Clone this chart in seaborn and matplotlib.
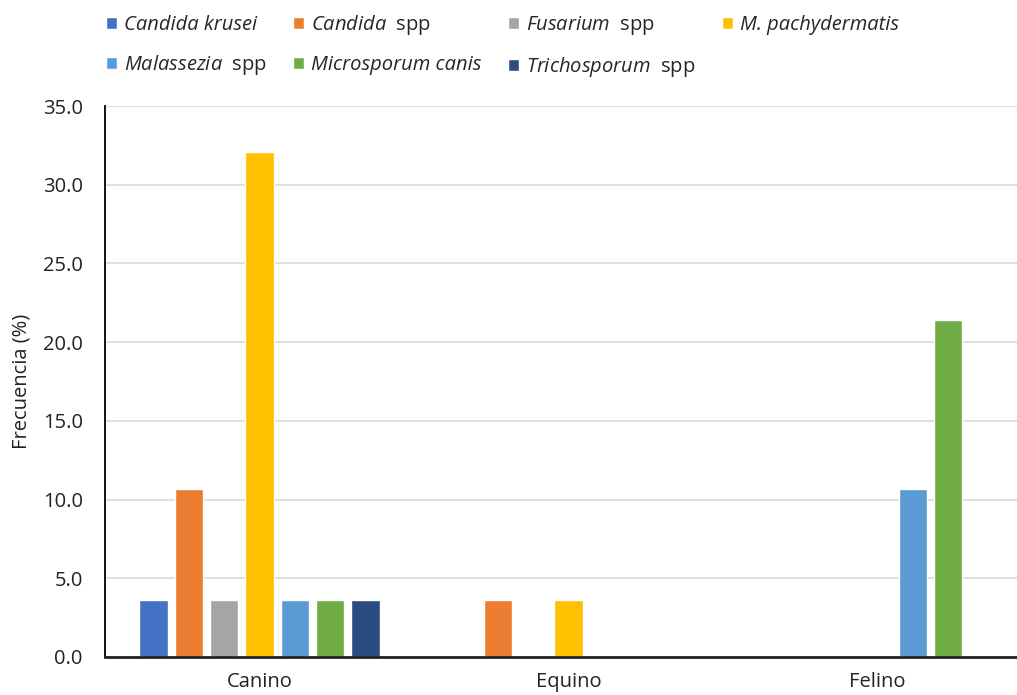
import numpy as np
import pandas as pd
import seaborn as sns
import matplotlib.pyplot as plt
from matplotlib.ticker import FormatStrFormatter

# data
hosts = ['Canino', 'Equino', 'Felino']
species = ['Candida krusei', 'Candida spp', 'Fusarium spp', 'M. pachydermatis',
           'Malassezia spp', 'Microsporum canis', 'Trichosporum spp']
legend_labels = ['Candida krusei', r'$\mathit{Candida}$  spp',
                 r'$\mathit{Fusarium}$  spp', 'M. pachydermatis',
                 r'$\mathit{Malassezia}$  spp', 'Microsporum canis',
                 r'$\mathit{Trichosporum}$  spp']
canino = [3.6, 10.7, 3.6, 32.1, 3.6, 3.6, 3.6]
equino = [0.0, 3.6, 0.0, 3.6, 0.0, 0.0, 0.0]
felino = [0.0, 0.0, 0.0, 0.0, 10.7, 21.4, 0.0]
colors = ['#4472C4', '#ED7D31', '#A5A5A5', '#FFC000', '#5B9BD5', '#70AD47', '#2B4C7E']

rows = []
for host, vals in zip(hosts, [canino, equino, felino]):
    for sp, v in zip(species, vals):
        rows.append({'Hospedador': host, 'Especie': sp, 'Frecuencia': v})
df = pd.DataFrame(rows)

# plotting
sns.set_style("white")
plt.rcParams['font.family'] = ['Open Sans', 'DejaVu Sans']
plt.rcParams['mathtext.fontset'] = 'custom'
plt.rcParams['mathtext.it'] = 'Open Sans:italic'
plt.rcParams['mathtext.rm'] = 'Open Sans'

fig = plt.figure(figsize=(10.17, 6.95), dpi=100)
ax = fig.add_axes([105 / 1017, 38 / 695, 927 / 1017, 551 / 695])

sns.barplot(ax=ax, data=df, x='Hospedador', y='Frecuencia', hue='Especie',
            order=hosts, hue_order=species, palette=colors, width=0.8, gap=0.2,
            saturation=1, legend=True)

handles, labels = ax.get_legend_handles_labels()
ax.get_legend().remove()

ax.set_ylim(0, 35)
ax.set_yticks(np.arange(0, 35.1, 5))
ax.yaxis.set_major_formatter(FormatStrFormatter('%.1f'))
ax.set_xlim(-0.5, 2.5)
ax.grid(axis='y', color='#D9D9D9', linewidth=1.2)
ax.set_axisbelow(True)
for s in ['top', 'right']:
    ax.spines[s].set_visible(False)
ax.spines['left'].set_color('black')
ax.spines['left'].set_linewidth(1.3)
ax.spines['bottom'].set_color('#222222')
ax.spines['bottom'].set_linewidth(2)
ax.tick_params(axis='both', length=0, labelsize=14.5, colors='#222222')
ax.tick_params(axis='x', pad=11)
ax.tick_params(axis='y', pad=16)
ax.set_xlabel('')
ax.set_ylabel('Frecuencia (%)', fontsize=14.5, color='#222222', labelpad=8)

# legend in row order (matplotlib fills by column)
order = [0, 4, 1, 5, 2, 6, 3]
leg = fig.legend([handles[i] for i in order], [legend_labels[i] for i in order],
                 ncol=4, loc='upper left', bbox_to_anchor=(106 / 1017, 1 - 13 / 695),
                 frameon=False, fontsize=14.5, handlelength=0.55, handleheight=0.55,
                 handletextpad=0.35, columnspacing=1.3, labelspacing=0.9,
                 borderpad=0, borderaxespad=0)
for t in leg.get_texts():
    if '$' not in t.get_text():
        t.set_fontstyle('italic')

fig.savefig('out.png', dpi=100)
